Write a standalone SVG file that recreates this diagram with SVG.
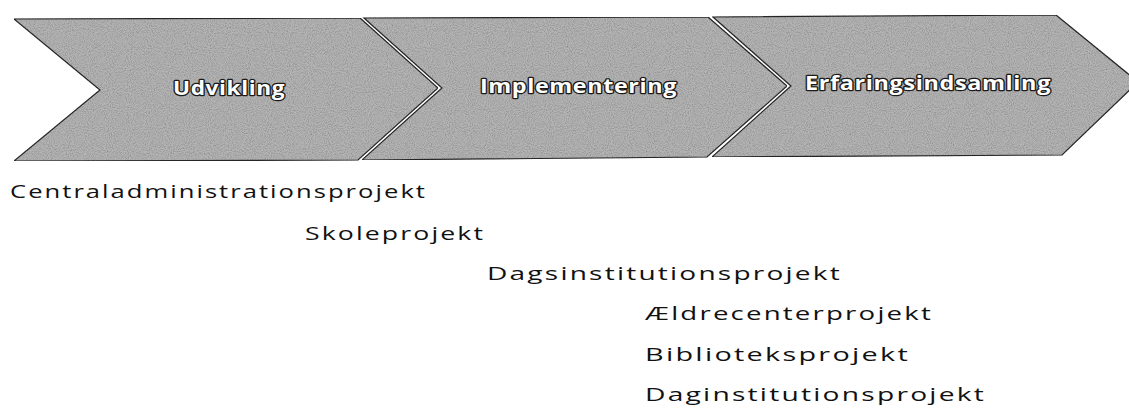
<svg xmlns="http://www.w3.org/2000/svg" width="1129" height="408" viewBox="0 0 1129 408">
  <style>
    .chev { fill: #b4b4b4; stroke: #2a2a2a; stroke-width: 1.2; filter: url(#grain); }
    .lbl { font-family: "Open Sans", "Liberation Sans", sans-serif; font-weight: bold; font-size: 19px; letter-spacing: 0.5px; fill: #ffffff; stroke: #1a1a1a; stroke-width: 2.4; paint-order: stroke; stroke-linejoin: round; }
    .proj { font-family: "Open Sans", "Liberation Sans", sans-serif; font-size: 19px; letter-spacing: 1.5px; fill: #111111; }
  </style>
  <defs>
    <filter id="grain" x="0" y="0" width="100%" height="100%">
      <feTurbulence type="fractalNoise" baseFrequency="0.95" numOctaves="2" seed="3" result="noise"/>
      <feColorMatrix in="noise" type="matrix" values="0 0 0 0 0  0 0 0 0 0  0 0 0 0 0  0 0 0 0.8 -0.3" result="dark"/>
      <feComposite in="dark" in2="SourceGraphic" operator="in" result="darkIn"/>
      <feMerge>
        <feMergeNode in="SourceGraphic"/>
        <feMergeNode in="darkIn"/>
      </feMerge>
    </filter>
  </defs>
  <rect width="1129" height="408" fill="#ffffff"/>
  <g id="connectors"></g>
  <g id="node-udvikling">
    <polygon class="chev" points="14,19 360,18 438,88 358,160 14,161 100,90"/>
    <text class="lbl" x="173" y="95" textLength="112" lengthAdjust="spacingAndGlyphs">Udvikling</text>
  </g>
  <g id="node-implementering">
    <polygon class="chev" points="364,18 708,17 787,86 707,157 362,160 442,88"/>
    <text class="lbl" x="480" y="93" textLength="197" lengthAdjust="spacingAndGlyphs">Implementering</text>
  </g>
  <g id="node-erfaringsindsamling">
    <polygon class="chev" points="713,17 1056,15 1138,82 1062,155 712,157 791,86"/>
    <text class="lbl" x="805" y="90" textLength="246" lengthAdjust="spacingAndGlyphs">Erfaringsindsamling</text>
  </g>
  <g id="projects">
    <text class="proj" x="10" y="198" textLength="417" lengthAdjust="spacingAndGlyphs">Centraladministrationsprojekt</text>
    <text class="proj" x="305" y="240" textLength="180" lengthAdjust="spacingAndGlyphs">Skoleprojekt</text>
    <text class="proj" x="487" y="280" textLength="355" lengthAdjust="spacingAndGlyphs">Dagsinstitutionsprojekt</text>
    <text class="proj" x="645" y="320" textLength="288" lengthAdjust="spacingAndGlyphs">Ældrecenterprojekt</text>
    <text class="proj" x="645" y="361" textLength="265" lengthAdjust="spacingAndGlyphs">Biblioteksprojekt</text>
    <text class="proj" x="645" y="401" textLength="341" lengthAdjust="spacingAndGlyphs">Daginstitutionsprojekt</text>
  </g>
</svg>
